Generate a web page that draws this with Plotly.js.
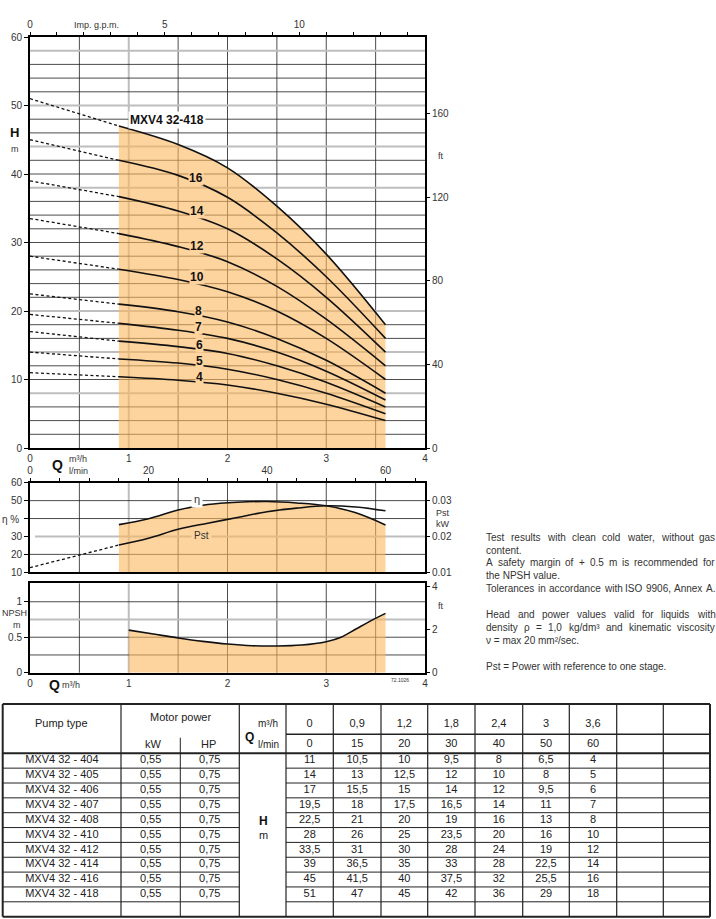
<!DOCTYPE html>
<html><head><meta charset="utf-8">
<script src="https://cdn.plot.ly/plotly-3.0.1.min.js"></script>
<style>html,body{margin:0;padding:0;background:#fff}#chart{width:716px;height:919px}</style>
</head><body><div id="chart"></div>
<script>
// ================= DATA =================
// table
const qTable   = [0, 0.9, 1.2, 1.8, 2.4, 3, 3.6];          // m3/h
const qLmin    = [0, 15, 20, 30, 40, 50, 60];               // l/min
const pumpTypes = ['MXV4 32 - 404','MXV4 32 - 405','MXV4 32 - 406','MXV4 32 - 407','MXV4 32 - 408',
                   'MXV4 32 - 410','MXV4 32 - 412','MXV4 32 - 414','MXV4 32 - 416','MXV4 32 - 418'];
const motorKW  = [0.55,0.55,0.55,0.55,0.55,0.55,0.55,0.55,0.55,0.55];
const motorHP  = [0.75,0.75,0.75,0.75,0.75,0.75,0.75,0.75,0.75,0.75];
const h404 = [11, 10.5, 10, 9.5, 8, 6.5, 4];
const h405 = [14, 13, 12.5, 12, 10, 8, 5];
const h406 = [17, 15.5, 15, 14, 12, 9.5, 6];
const h407 = [19.5, 18, 17.5, 16.5, 14, 11, 7];
const h408 = [22.5, 21, 20, 19, 16, 13, 8];
const h410 = [28, 26, 25, 23.5, 20, 16, 10];
const h412 = [33.5, 31, 30, 28, 24, 19, 12];
const h414 = [39, 36.5, 35, 33, 28, 22.5, 14];
const h416 = [45, 41.5, 40, 37.5, 32, 25.5, 16];
const h418 = [51, 47, 45, 42, 36, 29, 18];

// head curves as drawn, Q in m3/h
const qCurve = [0.9, 1.5, 2.0, 2.5, 3.0, 3.6];
const c404 = [10.4, 9.9, 9.2, 8.0, 6.4, 4.0];
const c405 = [13.0, 12.4, 11.5, 10.0, 8.0, 5.0];
const c406 = [15.6, 14.8, 13.8, 12.0, 9.6, 6.0];
const c407 = [18.2, 17.2, 16.0, 14.0, 11.2, 7.0];
const c408 = [21.0, 19.9, 18.4, 16.0, 12.8, 8.0];
const c410 = [26.1, 24.6, 22.8, 20.0, 16.0, 10.0];
const c412 = [31.3, 29.4, 27.2, 23.6, 18.8, 12.0];
const c414 = [36.7, 34.6, 32.0, 27.6, 22.0, 14.0];
const c416 = [42.0, 39.8, 36.6, 31.4, 25.0, 16.0];
const c418 = [47.0, 44.3, 40.9, 35.3, 28.3, 18.0];
const curveLabels = ['4','5','6','7','8','10','12','14','16'];
const modelLabel = 'MXV4 32-418';

// efficiency (%) and power per stage (kW)
const qEff   = [0.9, 1.2, 1.5, 1.8, 2.1, 2.4, 2.7, 3.0, 3.3, 3.6];
const etaPct = [36.6, 39.9, 44.8, 47.8, 49.1, 49.5, 48.7, 47.1, 43.2, 36.4];
const pstKW  = [0.0176, 0.0195, 0.0220, 0.0237, 0.0253, 0.0269, 0.0279, 0.02855, 0.0282, 0.02715];
const qPstExt  = [0, 0.9];
const pstKWExt = [0.0113, 0.0176];

// NPSH (m)
const qNpsh = [1, 1.25, 1.5, 1.75, 2, 2.25, 2.5, 2.75, 3, 3.15, 3.3, 3.45, 3.6];
const npsh  = [0.60, 0.545, 0.49, 0.442, 0.404, 0.38, 0.376, 0.39, 0.437, 0.5, 0.615, 0.73, 0.836];

const notes = [
  'Test results with clean cold water, without gas',
  'content.',
  'A safety margin of + 0.5 m is recommended for',
  'the NPSH value.',
  'Tolerances in accordance with ISO 9906, Annex A.',
  'Head and power values valid for liquids with',
  'density ρ = 1,0 kg/dm³ and kinematic viscosity',
  'ν = max 20 mm²/sec.',
  'Pst = Power with reference to one stage.'
];

// ================= LAYOUT HELPERS =================
const W = 716, H = 919;
const px = v => v / W;
const py = v => 1 - v / H;
const FONT = 'Liberation Sans, Arial, Helvetica, sans-serif';
const FILL = 'rgba(251,182,93,0.6)';
const FILL_SOLID = 'rgb(253,211,158)';
const GRID = '#1e1e1e';
const GRAY = 'rgb(190,190,190)';
const TXT = '#333';
const tickfont = {family: FONT, size: 10, color: TXT};
const M3H_PER_GPM = 0.272765;
const M_PER_FT = 0.3048;

const heads  = [h404, h405, h406, h407, h408, h410, h412, h414, h416, h418];
const curves = [c404, c405, c406, c407, c408, c410, c412, c414, c416, c418];

const traces = [];
// ---- top panel ----
traces.push({x: qCurve, y: c418, xaxis: 'x', yaxis: 'y', mode: 'lines',
  line: {width: 0, shape: 'spline', smoothing: 1}, fill: 'tozeroy', fillcolor: FILL, hoverinfo: 'skip'});
curves.forEach((c, i) => {
  traces.push({x: [qTable[0], qCurve[0]], y: [heads[i][0], c[0]], xaxis: 'x', yaxis: 'y', mode: 'lines',
    line: {color: '#111', width: 1.3, dash: '3px,2.5px'}, hoverinfo: 'skip'});
  traces.push({x: qCurve, y: c, xaxis: 'x', yaxis: 'y', mode: 'lines',
    line: {color: '#111', width: 1.6, shape: 'spline', smoothing: 1}, hoverinfo: 'skip'});
});
// same top curve expressed in secondary units (Imp. g.p.m. / ft) so the secondary axes are drawn
traces.push({x: qCurve.map(q => q / M3H_PER_GPM), y: c418.map(h => h / M_PER_FT), xaxis: 'x2', yaxis: 'y2',
  mode: 'lines', line: {width: 0}, opacity: 0, hoverinfo: 'skip'});
// ---- middle panel ----
traces.push({x: qEff, y: etaPct, xaxis: 'x3', yaxis: 'y3', mode: 'lines',
  line: {color: '#111', width: 1.6, shape: 'spline', smoothing: 1}, fill: 'tozeroy', fillcolor: FILL, hoverinfo: 'skip'});
traces.push({x: qPstExt, y: pstKWExt, xaxis: 'x3', yaxis: 'y4', mode: 'lines',
  line: {color: '#111', width: 1.3, dash: '3px,2.5px'}, hoverinfo: 'skip'});
traces.push({x: qEff.map(q => q * 1000 / 60), y: pstKW, xaxis: 'x4', yaxis: 'y4', mode: 'lines',
  line: {color: '#111', width: 1.6, shape: 'spline', smoothing: 1}, hoverinfo: 'skip'});
// ---- bottom panel ----
traces.push({x: qNpsh, y: npsh, xaxis: 'x5', yaxis: 'y5', mode: 'lines',
  line: {color: '#111', width: 1.6, shape: 'spline', smoothing: 1}, fill: 'tozeroy', fillcolor: FILL, hoverinfo: 'skip'});
traces.push({x: qNpsh, y: npsh.map(v => v / M_PER_FT), xaxis: 'x5', yaxis: 'y6', mode: 'lines',
  line: {width: 0}, opacity: 0, hoverinfo: 'skip'});

// ================= TABLE (x6 / y7 in pixel units) =================
const colEdges = [2.7, 121, 239.3, 286, 333.3, 381, 427.7, 475, 522.7, 569.3, 616.7, 663.3, 710];
const kwSplit = 180.3;
const tTop = 704, tQsplit = 734.3, tHead = 753.3, rowH = 14.85, tBot = 916.7;
const fmt = v => String(v).replace('.', ',');
const tx = [], ty = [], tt = [];
const rowY = i => tHead + rowH * (i + 0.5);
const valColCenter = j => (colEdges[3 + j] + colEdges[4 + j]) / 2;
qTable.forEach((q, j) => { tx.push(valColCenter(j)); ty.push(724.5); tt.push(fmt(q)); });
qLmin.forEach((q, j) => { tx.push(valColCenter(j)); ty.push(744); tt.push(fmt(q)); });
pumpTypes.forEach((p, i) => {
  tx.push((colEdges[0] + colEdges[1]) / 2); ty.push(rowY(i)); tt.push(p);
  tx.push((colEdges[1] + kwSplit) / 2); ty.push(rowY(i)); tt.push(fmt(motorKW[i]));
  tx.push((kwSplit + colEdges[2]) / 2); ty.push(rowY(i)); tt.push(fmt(motorHP[i]));
  heads[i].forEach((h, j) => { tx.push(valColCenter(j)); ty.push(rowY(i)); tt.push(fmt(h)); });
});
traces.push({x: tx, y: ty, text: tt, mode: 'text', xaxis: 'x6', yaxis: 'y7',
  textfont: {family: FONT, size: 11, color: '#222'}, textposition: 'middle center', cliponaxis: false, hoverinfo: 'skip'});

const shapes = [];
const tl = (x0, y0, x1, y1, w) => shapes.push({type: 'line', xref: 'x6', yref: 'y7', x0, y0, x1, y1,
  line: {color: '#222', width: w}});
tl(colEdges[0], tTop, colEdges[12], tTop, 2);
tl(colEdges[0], tBot, colEdges[12], tBot, 2);
tl(colEdges[0], tTop, colEdges[0], tBot, 2);
tl(colEdges[12], tTop, colEdges[12], tBot, 2);
for (let k = 1; k < 12; k++) tl(colEdges[k], tTop, colEdges[k], tBot, 1.2);
tl(kwSplit, 737.7, kwSplit, tBot, 1);
tl(colEdges[3], tQsplit, colEdges[12], tQsplit, 1.4);
tl(colEdges[0], tHead, colEdges[12], tHead, 2);
for (let i = 1; i <= pumpTypes.length; i++) {
  const y = tHead + rowH * i;
  tl(colEdges[0], y, colEdges[2], y, 1);
  tl(colEdges[3], y, colEdges[12], y, 1);
}

// ---- chart grid (drawn under the translucent fills) ----
const gl = (xa, ya, x0, x1, y0, y1, color, w) => shapes.push({type: 'line', xref: xa, yref: ya,
  x0, x1, y0, y1, line: {color, width: w}, layer: 'below'});
const qGrid = [0.5, 1, 1.5, 2, 2.5, 3, 3.5];
const qGray = [1];
const topGray = [58, 50, 44, 38, 20, 14, 8];
const panels = [['x', 'y'], ['x3', 'y3'], ['x5', 'y5']];
panels.forEach(([xa, ya]) => qGrid.forEach(q => {
  const g = qGray.includes(q);
  gl(xa, ya + ' domain', q, q, 0, 1, g ? GRAY : GRID, g ? 2 : 0.8);
}));
for (let h = 2; h < 60; h += 2) {
  const g = topGray.includes(h);
  gl('x', 'y', 0, 4, h, h, g ? GRAY : GRID, g ? 2 : 0.8);
}
[20, 40, 50].forEach(v => gl('x3', 'y3', 0, 4, v, v, GRID, 0.8));
gl('x3', 'y3', 0.05, 4, 30, 30, GRAY, 2);
[0.25, 0.5, 1.0].forEach(v => gl('x5', 'y5', 0, 4, v, v, GRID, 0.8));
gl('x5', 'y5', 0, 4, 0.75, 0.75, GRAY, 2);

// ================= ANNOTATIONS =================
const annotations = [];
const pa = (text, x, y, size, opts = {}) => annotations.push(Object.assign({
  text, x: px(x), y: py(y), xref: 'paper', yref: 'paper', showarrow: false,
  xanchor: 'center', yanchor: 'middle', font: {family: FONT, size, color: TXT}}, opts));
const ta = (text, x, y, size, opts = {}) => annotations.push(Object.assign({
  text, x, y, xref: 'x6', yref: 'y7', showarrow: false,
  xanchor: 'center', yanchor: 'middle', font: {family: FONT, size, color: '#222'}}, opts));

pa('Imp. g.p.m.', 96, 25, 9);
pa('<b>H</b>', 15, 132, 13, {font: {family: FONT, size: 13, color: '#111'}});
pa('m', 15, 149, 9);
pa('ft', 441, 156, 9);
pa('<b>Q</b>', 57, 465, 14, {font: {family: FONT, size: 14, color: '#111'}});
pa('m³/h', 78, 459, 9);
pa('l/min', 78, 471, 9);
const labelQ = [1.72, 1.72, 1.72, 1.71, 1.71, 1.69, 1.69, 1.69, 1.68];
const labelH = [10.4, 12.7, 15.1, 17.6, 20.0, 25.0, 29.5, 34.6, 39.4];
curveLabels.forEach((t, i) => annotations.push({text: '<b>' + t + '</b>', x: labelQ[i], y: labelH[i],
  xref: 'x', yref: 'y', showarrow: false, font: {family: FONT, size: 12, color: '#111'},
  bgcolor: FILL_SOLID, borderpad: 0}));
annotations.push({text: '<b>' + modelLabel + '</b>', x: 1.39, y: 47.9, xref: 'x', yref: 'y', showarrow: false,
  font: {family: FONT, size: 12, color: '#111'}, bgcolor: '#fff', borderpad: 1});
pa('η %', 10, 519, 10);
pa('Pst', 443, 513, 9);
pa('kW', 443, 524, 9);
annotations.push({text: 'η', x: 1.69, y: 50, yshift: 2, xref: 'x3', yref: 'y3', showarrow: false,
  font: {family: FONT, size: 11, color: TXT}, bgcolor: '#fff', borderpad: 2});
annotations.push({text: 'Pst', x: 1.74, y: 30, yshift: 1, xref: 'x3', yref: 'y3', showarrow: false,
  font: {family: FONT, size: 10, color: TXT}, bgcolor: FILL_SOLID, borderpad: 2});
pa('NPSH', 15, 613, 9);
pa('m', 17, 625, 9);
pa('ft', 441, 606, 9);
pa('<b>Q</b>', 54, 685, 14, {font: {family: FONT, size: 14, color: '#111'}});
pa('m³/h', 71, 685, 9);
pa('72.1026', 400, 680, 5);

// notes block, justified like the original
const noteY = [537, 550, 562.5, 575, 588, 614, 627, 640, 666];
const noteJustify = [true, false, true, false, true, true, true, false, false];
const NOTE_L = 484, NOTE_R = 713, NOTE_SIZE = 10;
const ctx = document.createElement('canvas').getContext('2d');
ctx.font = NOTE_SIZE + 'px "Liberation Sans", Arial, sans-serif';
notes.forEach((t, i) => {
  if (!noteJustify[i]) { pa(t, NOTE_L, noteY[i], NOTE_SIZE, {xanchor: 'left'}); return; }
  const words = t.split(' ');
  const widths = words.map(w => ctx.measureText(w).width);
  const total = widths.reduce((a, b) => a + b, 0);
  const gap = (NOTE_R - NOTE_L - total) / (words.length - 1);
  let x = NOTE_L;
  words.forEach((w, k) => { pa(w, x, noteY[i], NOTE_SIZE, {xanchor: 'left'}); x += widths[k] + gap; });
});

// table headers
ta('Pump type', (colEdges[0] + colEdges[1]) / 2, 723.3, 11);
ta('Motor power', (colEdges[1] + colEdges[2]) / 2, 717, 11);
ta('kW', 153, 744, 11);
ta('HP', 208, 744, 11);
ta('<b>Q</b>', 249, 736.7, 12, {font: {family: FONT, size: 12, color: '#111'}});
ta('m³/h', 268, 723.5, 10);
ta('l/min', 268.5, 744, 10);
ta('<b>H</b>', 263, 820.7, 12, {font: {family: FONT, size: 12, color: '#111'}});
ta('m', 263, 835, 11);

// ================= AXES =================
const X_DOM = [px(30), px(425)];
const border = {showline: true, mirror: true, linecolor: '#000', linewidth: 2, zeroline: false,
  showgrid: false, fixedrange: true};
const gpmTicks = [], gpmText = [];
for (let g = 0; g <= 14; g++) { gpmTicks.push(g); gpmText.push(g % 5 === 0 ? String(g) : ''); }
const lminTicks = [], lminText = [];
for (let l = 0; l <= 65; l += 5) { lminTicks.push(l); lminText.push(l % 20 === 0 ? String(l) : ''); }
const ovr = {showgrid: false, zeroline: false, showline: false, fixedrange: true,
  ticks: 'outside', ticklen: 4, tickcolor: '#000', tickfont};

const layout = {
  width: W, height: H, margin: {l: 0, r: 0, t: 0, b: 0},
  paper_bgcolor: '#fff', plot_bgcolor: 'rgba(0,0,0,0)', showlegend: false,
  font: {family: FONT, color: TXT},
  xaxis: Object.assign({domain: X_DOM, anchor: 'y', range: [0, 4], tick0: 0, dtick: 1, ticks: '', tickfont}, border),
  yaxis: Object.assign({domain: [py(448), py(37)], anchor: 'x', range: [0, 60], tick0: 0, dtick: 10,
    ticks: 'outside', ticklen: 4, tickcolor: '#000', tickfont}, border),
  xaxis2: Object.assign({overlaying: 'x', anchor: 'y', side: 'top', range: [0, 4 / M3H_PER_GPM],
    tickmode: 'array', tickvals: gpmTicks, ticktext: gpmText}, ovr),
  yaxis2: Object.assign({overlaying: 'y', anchor: 'x', side: 'right', range: [0, 60 / M_PER_FT],
    tick0: 0, dtick: 40}, ovr),
  xaxis3: Object.assign({domain: X_DOM, anchor: 'y3', range: [0, 4], tick0: 0, dtick: 1, ticks: '',
    showticklabels: false}, border),
  yaxis3: Object.assign({domain: [py(572.3), py(482.7)], anchor: 'x3', range: [10, 60], tickmode: 'array',
    tickvals: [10, 20, 30, 40, 50, 60], ticktext: ['10', '20', '30', '', '50', '60'],
    ticks: 'outside', ticklen: 4, tickcolor: '#000', tickfont}, border),
  xaxis4: Object.assign({overlaying: 'x3', anchor: 'y3', side: 'top', range: [0, 200 / 3],
    tickmode: 'array', tickvals: lminTicks, ticktext: lminText}, ovr),
  yaxis4: Object.assign({overlaying: 'y3', anchor: 'x3', side: 'right', range: [0.01, 0.035],
    tickmode: 'array', tickvals: [0.01, 0.02, 0.03], ticktext: ['0.01', '0.02', '0.03']}, ovr),
  xaxis5: Object.assign({domain: X_DOM, anchor: 'y5', range: [0, 4], tick0: 0, dtick: 1, ticks: '', tickfont}, border),
  yaxis5: Object.assign({domain: [py(672.7), py(583.3)], anchor: 'x5', range: [0, 1.26], tick0: 0, dtick: 0.5,
    ticks: 'outside', ticklen: 4, tickcolor: '#000', tickfont}, border),
  yaxis6: Object.assign({overlaying: 'y5', anchor: 'x5', side: 'right', range: [0, 1.26 / M_PER_FT],
    tickmode: 'array', tickvals: [0, 2, 4]}, ovr),
  xaxis6: {domain: [0, 1], anchor: 'y7', range: [0, W], visible: false, fixedrange: true},
  yaxis7: {domain: [0, py(695)], anchor: 'x6', range: [H, 695], visible: false, fixedrange: true},
  shapes, annotations
};

Plotly.newPlot('chart', traces, layout, {staticPlot: true, displayModeBar: false});
</script></body></html>
